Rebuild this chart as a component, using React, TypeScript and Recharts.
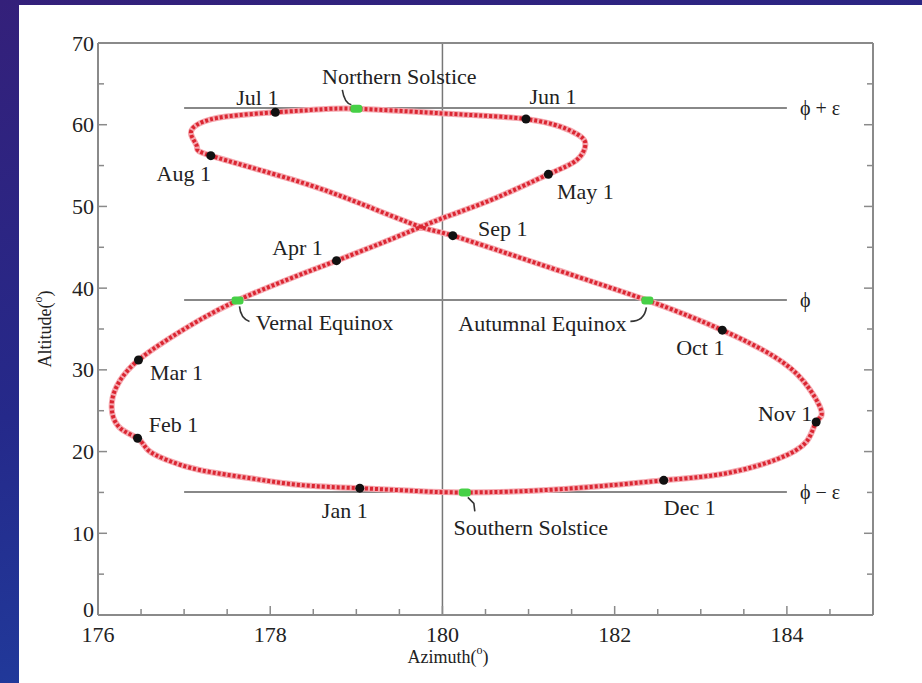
import React from "react";
import {
  ComposedChart,
  Line,
  Scatter,
  XAxis,
  YAxis,
  ReferenceLine,
} from "recharts";

// sun position at noon, read along the analemma starting Jan 1
const pathAz = [
  179.04, 178.35, 177.77, 177.18, 176.8, 176.58, 176.46, 176.24, 176.16, 176.26,
  176.47, 176.8, 177.18, 177.62, 178.19, 178.77, 179.43, 180.01, 180.59, 181.23,
  181.56, 181.66, 181.58, 181.37, 180.97, 180.4, 179.82, 179.0, 178.54, 178.06,
  177.49, 177.18, 177.08, 177.15, 177.31, 178.27, 179.04, 179.74, 180.12, 181.25,
  182.38, 183.25, 183.84, 184.19, 184.4, 184.34, 184.23, 183.89, 183.3, 182.57,
  181.37, 180.26, 179.65, 179.04,
];
const pathAlt = [
  15.52, 15.91, 16.73, 17.75, 18.97, 20.2, 21.63, 23.05, 25.9, 28.76,
  31.2, 33.66, 36.1, 38.5, 41.0, 43.36, 46.1, 48.6, 50.9, 53.93,
  55.68, 57.6, 58.74, 59.76, 60.7, 61.15, 61.5, 61.95, 61.85, 61.52,
  61.0, 60.17, 58.9, 57.3, 56.21, 53.24, 50.38, 47.52, 46.42, 42.5,
  38.5, 34.86, 31.7, 28.65, 25.0, 23.62, 21.26, 19.09, 17.35, 16.48,
  15.4, 15.0, 15.2, 15.52,
];

const monthNames = ["Jan 1", "Feb 1", "Mar 1", "Apr 1", "May 1", "Jun 1", "Jul 1", "Aug 1", "Sep 1", "Oct 1", "Nov 1", "Dec 1"];
const monthAz = [179.04, 176.46, 176.47, 178.77, 181.23, 180.97, 178.06, 177.31, 180.12, 183.25, 184.34, 182.57];
const monthAlt = [15.52, 21.63, 31.2, 43.36, 53.93, 60.7, 61.52, 56.21, 46.42, 34.86, 23.62, 16.48];

const eventNames = ["Vernal Equinox", "Northern Solstice", "Autumnal Equinox", "Southern Solstice"];
const eventAz = [177.62, 179.0, 182.38, 180.26];
const eventAlt = [38.5, 61.95, 38.5, 15.0];

const levelNames = ["ϕ + ε", "ϕ", "ϕ − ε"];
const levelAlt = [62.05, 38.55, 15.05];
const levelFrom = 177;
const levelTo = 184;
const meridianAz = 180;

const xTicks = [176, 176.5, 177, 177.5, 178, 178.5, 179, 179.5, 180, 180.5, 181, 181.5, 182, 182.5, 183, 183.5, 184, 184.5, 185];
const xLabels = [176, 178, 180, 182, 184];
const yTicks = [0, 5, 10, 15, 20, 25, 30, 35, 40, 45, 50, 55, 60, 65, 70];
const yLabels = [0, 10, 20, 30, 40, 50, 60, 70];

const pathData = pathAz.map((az, i) => ({ az, alt: pathAlt[i] }));
const monthData = monthNames.map((name, i) => ({ name, az: monthAz[i], alt: monthAlt[i] }));
const eventData = eventNames.map((name, i) => ({ name, az: eventAz[i], alt: eventAlt[i] }));

const AXIS = "#8a8a8a";
const TEXT = "#222";
const FONT = "'Liberation Serif', 'DejaVu Serif', serif";
const FS = 22;

// label placement relative to the marker (px)
const monthOffset: Record<string, [number, number]> = {
  "Jan 1": [-15, 22],
  "Feb 1": [36, -14],
  "Mar 1": [38, 12],
  "Apr 1": [-39, -13],
  "May 1": [37, 17],
  "Jun 1": [27, -22],
  "Jul 1": [-18, -15],
  "Aug 1": [-27, 18],
  "Sep 1": [50, -7],
  "Oct 1": [-22, 17],
  "Nov 1": [-31, -8],
  "Dec 1": [26, 27],
};

const eventDecor: Record<string, { dx: number; dy: number; arrow: string }> = {
  "Northern Solstice": { dx: 43, dy: -32, arrow: "M -14 -19 Q -12 -6 -5 -4" },
  "Vernal Equinox": { dx: 87, dy: 22, arrow: "M 2 6 Q 3 18 12 21" },
  "Autumnal Equinox": { dx: -105, dy: 23, arrow: "M -17 21 Q -3 21 -1 7" },
  "Southern Solstice": { dx: 66, dy: 35, arrow: "M 3 5 L 9 11 L 10 19" },
};

function BottomTick({ x, y, payload }: any) {
  const major = xLabels.includes(payload.value);
  return (
    <g>
      <line x1={x} x2={x} y1={y} y2={y - (major ? 9 : 6)} stroke={AXIS} strokeWidth={1.5} />
      {major && (
        <text x={x} y={y + 19} textAnchor="middle" dominantBaseline="central" fontFamily={FONT} fontSize={FS} fill={TEXT}>
          {payload.value}
        </text>
      )}
    </g>
  );
}

function TopTick({ x, y, payload }: any) {
  const major = xLabels.includes(payload.value);
  return <line x1={x} x2={x} y1={y} y2={y + (major ? 9 : 6)} stroke={AXIS} strokeWidth={1.5} />;
}

function LeftTick({ x, y, payload }: any) {
  const major = yLabels.includes(payload.value);
  return (
    <g>
      <line x1={x} x2={x + (major ? 9 : 6)} y1={y} y2={y} stroke={AXIS} strokeWidth={1.5} />
      {major && (
        <text x={x - 4} y={payload.value === 0 ? y - 6 : y} textAnchor="end" dominantBaseline="central" fontFamily={FONT} fontSize={FS} fill={TEXT}>
          {payload.value}
        </text>
      )}
    </g>
  );
}

function RightTick({ x, y, payload }: any) {
  const major = yLabels.includes(payload.value);
  return <line x1={x} x2={x - (major ? 9 : 6)} y1={y} y2={y} stroke={AXIS} strokeWidth={1.5} />;
}

function MonthMark(props: any) {
  const { cx, cy, payload } = props;
  const [dx, dy] = monthOffset[payload.name] || [0, 0];
  return (
    <g>
      <circle cx={cx} cy={cy} r={4.5} fill="#111" />
      <text x={cx + dx} y={cy + dy} textAnchor="middle" dominantBaseline="central" fontFamily={FONT} fontSize={FS} fill={TEXT}>
        {payload.name}
      </text>
    </g>
  );
}

function EventMark(props: any) {
  const { cx, cy, payload } = props;
  const d = eventDecor[payload.name];
  return (
    <g>
      <path d={d.arrow} transform={`translate(${cx},${cy})`} fill="none" stroke="#333" strokeWidth={1.6} />
      <rect x={cx - 6} y={cy - 4} width={12} height={8} rx={3} fill="#46d046" />
      <text x={cx + d.dx} y={cy + d.dy} textAnchor="middle" dominantBaseline="central" fontFamily={FONT} fontSize={FS} fill={TEXT}>
        {payload.name}
      </text>
    </g>
  );
}

function XTitle({ viewBox }: any) {
  const cx = 429;
  const cy = viewBox.y + 42;
  return (
    <text x={cx} y={cy} textAnchor="middle" dominantBaseline="central" fontFamily={FONT} fontSize={18} fill={TEXT}>
      Azimuth(<tspan fontSize={12} dy={-7}>o</tspan>
      <tspan dy={7}>)</tspan>
    </text>
  );
}

function YTitle({ viewBox }: any) {
  const cx = 26;
  const cy = viewBox.y + viewBox.height / 2;
  return (
    <text x={cx} y={cy} transform={`rotate(-90 ${cx} ${cy})`} textAnchor="middle" dominantBaseline="central" fontFamily={FONT} fontSize={18} fill={TEXT}>
      Altitude(<tspan fontSize={12} dy={-7}>o</tspan>
      <tspan dy={7}>)</tspan>
    </text>
  );
}

export default function App() {
  return (
    <div
      style={{
        position: "fixed",
        left: 0,
        top: 0,
        width: 922,
        height: 683,
        overflow: "hidden",
        background: "linear-gradient(165deg, #34207a 0%, #25298a 45%, #1d47a8 100%)",
      }}
    >
      <div style={{ position: "absolute", left: 19, top: 5, width: 903, height: 678, background: "#fff" }}>
        <ComposedChart width={903} height={678} margin={{ top: 28, right: 39, bottom: 18, left: 19 }}>
          <XAxis
            type="number"
            dataKey="az"
            domain={[176, 185]}
            ticks={xTicks}
            interval={0}
            allowDataOverflow
            tickSize={0}
            tickMargin={0}
            tick={<BottomTick />}
            axisLine={{ stroke: AXIS, strokeWidth: 2 }}
            height={50}
            label={<XTitle />}
          />
          <XAxis
            xAxisId="top"
            orientation="top"
            type="number"
            domain={[176, 185]}
            ticks={xTicks}
            interval={0}
            allowDataOverflow
            tickSize={0}
            tickMargin={0}
            tick={<TopTick />}
            axisLine={{ stroke: AXIS, strokeWidth: 2 }}
            height={10}
          />
          <YAxis
            type="number"
            dataKey="alt"
            domain={[0, 70]}
            ticks={yTicks}
            interval={0}
            allowDataOverflow
            tickSize={0}
            tickMargin={0}
            tick={<LeftTick />}
            axisLine={{ stroke: AXIS, strokeWidth: 2 }}
            width={60}
            label={<YTitle />}
          />
          <YAxis
            yAxisId="right"
            orientation="right"
            type="number"
            domain={[0, 70]}
            ticks={yTicks}
            interval={0}
            allowDataOverflow
            tickSize={0}
            tickMargin={0}
            tick={<RightTick />}
            axisLine={{ stroke: AXIS, strokeWidth: 2 }}
            width={10}
          />

          <ReferenceLine x={meridianAz} stroke="#777" strokeWidth={1.5} />
          {levelAlt.map((v, i) => (
            <ReferenceLine
              key={levelNames[i]}
              segment={[
                { x: levelFrom, y: v },
                { x: levelTo, y: v },
              ]}
              stroke="#888"
              strokeWidth={2}
              label={{ value: levelNames[i], position: "right", offset: 13, fill: TEXT, fontSize: 20, fontFamily: FONT }}
            />
          ))}

          <Line
            data={pathData}
            dataKey="alt"
            type="natural"
            stroke="#f5a9b0"
            strokeWidth={6}
            dot={false}
            activeDot={false}
            isAnimationActive={false}
          />
          <Line
            data={pathData}
            dataKey="alt"
            type="natural"
            stroke="#db2632"
            strokeWidth={4}
            strokeDasharray="3 2"
            dot={false}
            activeDot={false}
            isAnimationActive={false}
          />
          <Scatter data={monthData} shape={<MonthMark />} isAnimationActive={false} />
          <Scatter data={eventData} shape={<EventMark />} isAnimationActive={false} />
        </ComposedChart>
      </div>
    </div>
  );
}
